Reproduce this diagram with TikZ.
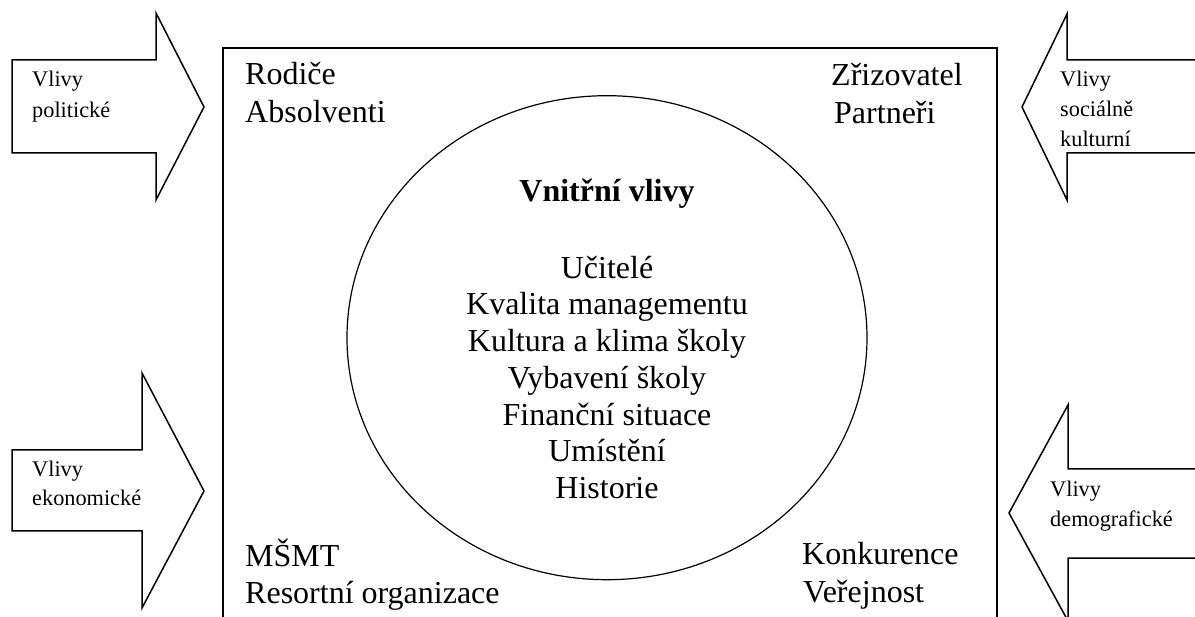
\documentclass[tikz,border=0pt]{standalone}
\usepackage{fontspec}
\setmainfont{Liberation Serif}
\begin{document}
\begin{tikzpicture}[x=1pt,y=-1pt,
  outline/.style={draw=black,line width=1.5pt,line join=miter},
  big/.style={inner sep=0pt,font=\fontsize{32}{38}\selectfont},
  small/.style={inner sep=0pt,anchor=base west,font=\fontsize{22.3}{30}\selectfont}]
\useasboundingbox (0,0) rectangle (1195,617);
\fill[white] (0,0) rectangle (1195,617);
\clip (0,0) rectangle (1195,617);
% outer frame (open at the bottom edge of the picture)
\draw[outline] (223,625) -- (223,48) -- (997,48) -- (997,625);
% inner circle
\draw[line width=1.2pt] (607,337.7) ellipse [x radius=260, y radius=242];
% arrows
\draw[outline] (12,60) -- (156,60) -- (156,13) -- (204,107) -- (156,200) -- (156,153) -- (12,153) -- cycle;
\draw[outline] (1210,60) -- (1067,60) -- (1067,14) -- (1022,107) -- (1067,200) -- (1067,153) -- (1210,153);
\draw[outline] (12,450) -- (142,450) -- (142,373) -- (204,491) -- (142,608) -- (142,531) -- (12,531) -- cycle;
\draw[outline] (1210,469) -- (1068,469) -- (1068,405) -- (1009,513) -- (1068,621) -- (1068,558) -- (1210,558);
% arrow labels
\node[small] (pol1) at (32,87) {Vlivy};
\node[small] (pol2) at (32,118) {politické};
\node[small] (soc1) at (1060,87) {Vlivy};
\node[small] (soc2) at (1060,117) {sociálně};
\node[small] (soc3) at (1060,147) {kulturní};
\node[small] (eko1) at (32,477) {Vlivy};
\node[small] (eko2) at (32,506) {ekonomické};
\node[small] (dem1) at (1050,497) {Vlivy};
\node[small] (dem2) at (1050,526) {demografické};
% corner labels
\node[big,anchor=base west] (rod) at (245,85) {Rodiče};
\node[big,anchor=base west] (abs) at (245,123) {Absolventi};
\node[big,anchor=base west] (zri) at (831,86) {Zřizovatel};
\node[big,anchor=base west] (par) at (834,124) {Partneři};
\node[big,anchor=base west] (msm) at (245,566) {MŠMT};
\node[big,anchor=base west] (res) at (245,603) {Resortní organizace};
\node[big,anchor=base west] (kon) at (802,565) {Konkurence};
\node[big,anchor=base west] (ver) at (803,602) {Veřejnost};
% inner influences
\node[big,anchor=base,font=\fontsize{32}{38}\selectfont\bfseries] (vni) at (607,202) {Vnitřní vlivy};
\node[big,anchor=base] (uci) at (607,278.3) {Učitelé};
\node[big,anchor=base] (kva) at (607,315) {Kvalita managementu};
\node[big,anchor=base] (kul) at (607,351.7) {Kultura a klima školy};
\node[big,anchor=base] (vyb) at (607,388.4) {Vybavení školy};
\node[big,anchor=base] (fin) at (607,425.1) {Finanční situace};
\node[big,anchor=base] (umi) at (607,461.8) {Umístění};
\node[big,anchor=base] (his) at (607,498.5) {Historie};
\end{tikzpicture}
\end{document}
